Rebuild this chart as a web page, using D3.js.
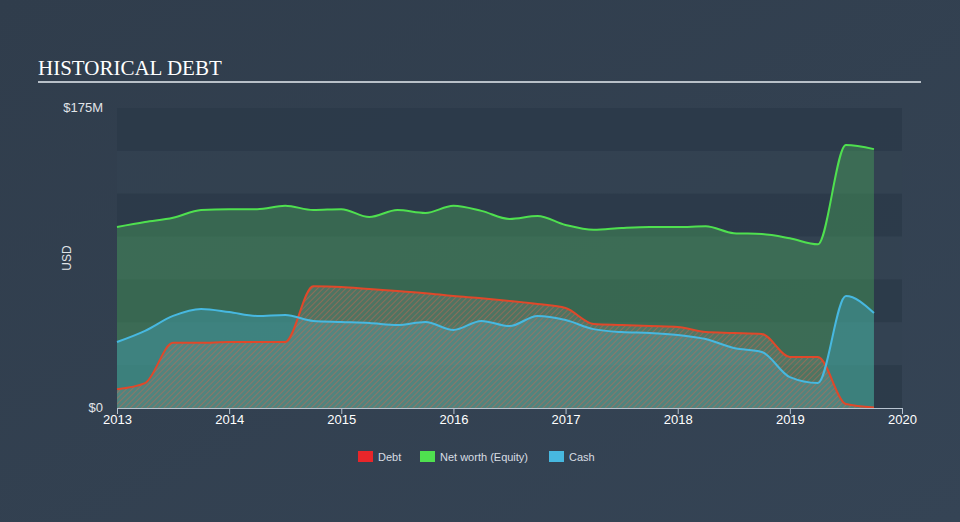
<!DOCTYPE html>
<html><head><meta charset="utf-8">
<script src="https://cdn.jsdelivr.net/npm/d3@7"></script>
<style>
html,body{margin:0;padding:0;background:#334353;}
svg{display:block;}
</style></head>
<body>
<svg id="chart" width="960" height="522"></svg>
<script>
const dates = [2013.0,2013.25,2013.5,2013.75,2014.0,2014.25,2014.5,2014.75,2015.0,2015.25,2015.5,2015.75,2016.0,2016.25,2016.5,2016.75,2017.0,2017.25,2017.5,2017.75,2018.0,2018.25,2018.5,2018.75,2019.0,2019.25,2019.5,2019.75];
const debt = [11,14.5,38,38,38.5,38.5,38.5,71,70.6,69.4,68.3,67,65.3,64,62.4,60.7,58.3,49,48.4,47.8,47.3,44.3,43.8,43.2,29.8,29.8,2.3,0.3];
const equity = [105.6,108.5,111,115.5,116,116,118,115.5,116,111.4,115.5,113.8,118,115,110.3,112,106.8,104,105,105.6,105.6,106,102,101.5,99,95.5,153.4,151];
const cash = [38.5,45,53.7,57.8,56,53.7,54.3,50.8,50.2,49.6,48.4,50.2,45.5,50.8,47.8,53.7,51.3,46,44.3,43.8,42.6,40.2,35,32.7,18,14.6,65.3,55.4];
const yearTicks = [2013,2014,2015,2016,2017,2018,2019,2020];
const yTicks = [0,175];
const yTickLabels = ["$0","$175M"];
const seriesNames = ["Debt","Net worth (Equity)","Cash"];
const seriesColors = ["#e8262a","#4fe04f","#47b8e0"];

const svg = d3.select("#chart");
const W=960,H=522;
const defs = svg.append("defs");
const bg = defs.append("linearGradient").attr("id","bg").attr("x1",0).attr("y1",0).attr("x2",1).attr("y2",1);
bg.append("stop").attr("offset","0%").attr("stop-color","#303d4c");
bg.append("stop").attr("offset","100%").attr("stop-color","#354455");
svg.append("rect").attr("width",W).attr("height",H).attr("fill","url(#bg)");

const pat = defs.append("pattern").attr("id","hatch").attr("patternUnits","userSpaceOnUse")
  .attr("width",4).attr("height",4).attr("patternTransform","rotate(45)");
pat.append("rect").attr("width",4).attr("height",4).attr("fill","rgba(120,140,130,0.35)");
pat.append("line").attr("x1",0).attr("y1",0).attr("x2",0).attr("y2",4)
  .attr("stroke","#d8644a").attr("stroke-width",1.6).attr("stroke-opacity",0.55);

const x = d3.scaleLinear().domain([2013,2020]).range([117,902]);
const y = d3.scaleLinear().domain([0,175]).range([408,108]);

// bands
const bands = d3.range(7);
svg.append("g").selectAll("rect").data(bands).enter().append("rect")
  .attr("x",x(2013)).attr("width",x(2020)-x(2013))
  .attr("y",d=>y(175-d*25)).attr("height",d=>y(150-d*25)-y(175-d*25))
  .attr("fill",d=>d%2===0?"#2c3a49":"#334252").attr("opacity",d=>d%2===0?0.85:0.6);

// title
svg.append("text").attr("x",38).attr("y",75).text("HISTORICAL DEBT")
  .attr("font-family","Liberation Serif, serif").attr("font-size",21).attr("fill","#ffffff");
svg.append("line").attr("x1",38).attr("x2",921).attr("y1",82).attr("y2",82)
  .attr("stroke","#b8c0c8").attr("stroke-width",2);

const data = dates.map((d,i)=>({d,debt:debt[i],eq:equity[i],cash:cash[i]}));
const curve = d3.curveMonotoneX;
const area = key => d3.area().x(d=>x(d.d)).y0(y(0)).y1(d=>y(d[key])).curve(curve);
const line = key => d3.line().x(d=>x(d.d)).y(d=>y(d[key])).curve(curve);

svg.append("path").datum(data).attr("d",area("eq")).attr("fill","#47a05a").attr("fill-opacity",0.45);
svg.append("path").datum(data).attr("d",area("cash")).attr("fill","#47b8e0").attr("fill-opacity",0.3);
svg.append("path").datum(data).attr("d",area("debt")).attr("fill","url(#hatch)");

svg.append("path").datum(data).attr("d",line("eq")).attr("fill","none").attr("stroke","#4fe04f").attr("stroke-width",2);
svg.append("path").datum(data).attr("d",line("debt")).attr("fill","none").attr("stroke","#e0482a").attr("stroke-width",2);
svg.append("path").datum(data).attr("d",line("cash")).attr("fill","none").attr("stroke","#47b8e0").attr("stroke-width",2);

// x axis
const xa = svg.append("g").attr("transform","translate(0,408)")
  .call(d3.axisBottom(x).tickValues(yearTicks).tickFormat(d3.format("d")).tickSize(6).tickSizeOuter(0));
xa.select(".domain").attr("stroke","#b8c4d0");
xa.selectAll(".tick line").attr("stroke","#b8c4d0").attr("y1",0).attr("y2",6);
xa.selectAll(".tick text").attr("fill","#ffffff").attr("font-family","Liberation Sans, Arial, sans-serif").attr("font-size",13).attr("dy","0.9em").attr("y",4);

// y labels
svg.append("g").selectAll("text").data(yTicks).enter().append("text")
  .attr("x",103).attr("y",d=>y(d)+(d===0?4:4)).attr("text-anchor","end")
  .attr("fill","#e0e4e8").attr("font-family","Liberation Sans, Arial, sans-serif").attr("font-size",13)
  .text((d,i)=>yTickLabels[i]);
svg.append("text").attr("transform","translate(71,258) rotate(-90)").attr("text-anchor","middle")
  .attr("fill","#e0e4e8").attr("font-family","Liberation Sans, Arial, sans-serif").attr("font-size",12).text("USD");

// legend
const lg = svg.append("g");
const lx = [358,420,549];
seriesNames.forEach((n,i)=>{
  lg.append("rect").attr("x",lx[i]).attr("y",451).attr("width",15).attr("height",11).attr("fill",seriesColors[i]);
  lg.append("text").attr("x",lx[i]+20).attr("y",461).text(n).attr("fill","#d8dde3")
    .attr("font-family","Liberation Sans, Arial, sans-serif").attr("font-size",11);
});
</script>
</body></html>
